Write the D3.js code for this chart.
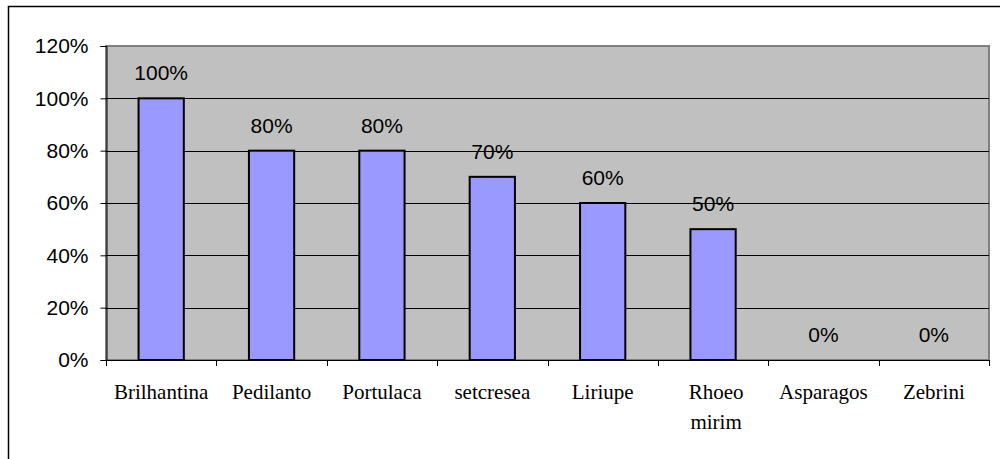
<!DOCTYPE html>
<html>
<head>
<meta charset="utf-8">
<script src="https://cdn.jsdelivr.net/npm/d3@7"></script>
<style>
  html, body { margin: 0; padding: 0; background: #fff; }
  svg { display: block; }
</style>
</head>
<body>
<svg id="chart" width="1000" height="459"></svg>
<script>
const categories = ["Brilhantina", "Pedilanto", "Portulaca", "setcresea", "Liriupe", "Rhoeo mirim", "Asparagos", "Zebrini"];
const values = [1.00, 0.80, 0.80, 0.70, 0.60, 0.50, 0.00, 0.00];
const yTicks = [0, 0.2, 0.4, 0.6, 0.8, 1.0, 1.2];

const svg = d3.select("#chart");
const plot = { left: 106, top: 46, right: 989, bottom: 360 };

// outer chart border (extends beyond window on right/bottom)
svg.append("rect")
  .attr("x", 8.5).attr("y", 6.5)
  .attr("width", 1010).attr("height", 470)
  .attr("fill", "#fff").attr("stroke", "#000").attr("stroke-width", 1.5);

const x = d3.scaleBand().domain(categories).range([plot.left, plot.right]).padding(0);
const y = d3.scaleLinear().domain([0, 1.2]).range([plot.bottom, plot.top]);

// plot area
svg.append("rect")
  .attr("x", plot.left).attr("y", plot.top)
  .attr("width", plot.right - plot.left).attr("height", plot.bottom - plot.top)
  .attr("fill", "#C0C0C0").attr("stroke", "#808080").attr("stroke-width", 2);

// gridlines
svg.append("g").selectAll("line")
  .data(yTicks.filter(t => t > 0 && t < 1.2))
  .join("line")
  .attr("x1", plot.left).attr("x2", plot.right)
  .attr("y1", d => Math.round(y(d)) + 0.5).attr("y2", d => Math.round(y(d)) + 0.5)
  .attr("stroke", "#000").attr("stroke-width", 1);

// bars
const bw = x.bandwidth() * 0.41;
svg.append("g").selectAll("rect")
  .data(categories.map((c, i) => ({ c, v: values[i] })).filter(d => d.v > 0))
  .join("rect")
  .attr("x", d => x(d.c) + (x.bandwidth() - bw) / 2)
  .attr("y", d => y(d.v))
  .attr("width", bw)
  .attr("height", d => y(0) - y(d.v))
  .attr("fill", "#9999FF").attr("stroke", "#000").attr("stroke-width", 2);

// value labels
svg.append("g").selectAll("text")
  .data(categories.map((c, i) => ({ c, v: values[i] })))
  .join("text")
  .attr("x", d => x(d.c) + x.bandwidth() / 2)
  .attr("y", d => y(d.v) - 18)
  .attr("text-anchor", "middle")
  .attr("font-family", "Liberation Sans, Arial, sans-serif")
  .attr("font-size", 21).attr("fill", "#000")
  .text(d => d3.format(".0%")(d.v));

// y axis
const yAxis = d3.axisLeft(y).tickValues(yTicks).tickFormat(d3.format(".0%")).tickSize(6).tickPadding(12);
const gy = svg.append("g").attr("transform", `translate(${plot.left + 0.5},0)`).call(yAxis);
gy.select(".domain").attr("stroke", "#000").attr("stroke-width", 1);
gy.selectAll(".tick line").attr("stroke", "#000");
gy.selectAll("text")
  .attr("font-family", "Liberation Sans, Arial, sans-serif")
  .attr("font-size", 21).attr("fill", "#000");

// x axis line + boundary ticks
const gx = svg.append("g");
gx.append("line")
  .attr("x1", plot.left).attr("x2", plot.right)
  .attr("y1", plot.bottom + 0.5).attr("y2", plot.bottom + 0.5)
  .attr("stroke", "#000").attr("stroke-width", 1);
const bounds = categories.map(c => x(c)).concat([x.range()[1]]);
gx.selectAll("line.tk").data(bounds).join("line").attr("class", "tk")
  .attr("x1", d => Math.round(d) + 0.5).attr("x2", d => Math.round(d) + 0.5)
  .attr("y1", plot.bottom).attr("y2", plot.bottom + 6)
  .attr("stroke", "#000").attr("stroke-width", 1);

// category labels (wrapped when wider than band)
const labels = gx.selectAll("text.cat").data(categories).join("text").attr("class", "cat")
  .attr("x", d => x(d) + x.bandwidth() / 2)
  .attr("y", 399)
  .attr("text-anchor", "middle")
  .attr("font-family", "Liberation Serif, Times New Roman, serif")
  .attr("font-size", 21).attr("fill", "#000");
labels.each(function(d) {
  const t = d3.select(this);
  t.text(d);
  if (this.getComputedTextLength() > x.bandwidth() * 0.95 && d.includes(" ")) {
    t.text(null);
    d.split(" ").forEach((w, i) => {
      t.append("tspan").attr("x", x(d) + x.bandwidth() / 2 + 3).attr("dy", i === 0 ? 0 : 30).text(w);
    });
  }
});
</script>
</body>
</html>
